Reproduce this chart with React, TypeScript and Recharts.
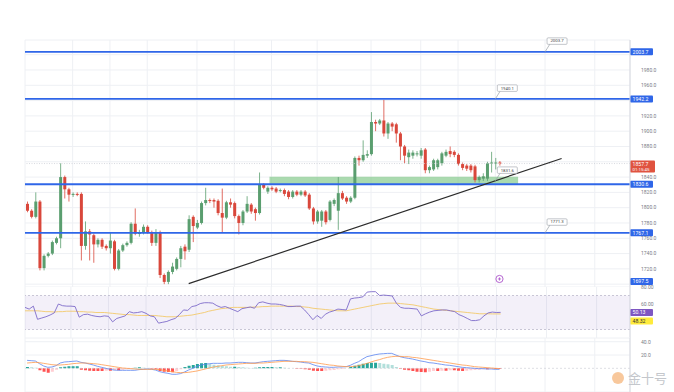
import { ComposedChart, Bar, Line, XAxis, YAxis, CartesianGrid, ReferenceLine, ReferenceArea, ReferenceDot, Cell } from 'recharts';

// daily candles (price units)
const opens = [1805, 1796, 1788, 1808, 1721, 1737, 1740, 1754, 1760, 1840, 1824, 1817, 1818, 1818, 1750, 1769, 1764, 1752, 1758, 1750, 1747, 1756, 1720, 1744, 1751, 1754, 1779, 1766, 1767, 1775, 1768, 1754, 1768, 1712, 1703, 1716, 1720, 1733, 1749, 1745, 1788, 1774, 1780, 1806, 1810, 1810, 1809, 1793, 1787, 1807, 1806, 1789, 1780, 1795, 1804, 1798, 1793, 1830, 1821, 1826, 1825, 1822, 1823, 1821, 1814, 1821, 1817, 1821, 1817, 1799, 1782, 1783, 1795, 1784, 1805, 1796, 1819, 1813, 1808, 1813, 1865, 1862, 1868, 1870, 1912, 1910, 1914, 1897, 1910, 1909, 1897, 1880, 1866, 1868, 1870, 1868, 1876, 1849, 1850, 1853, 1858, 1868, 1874, 1873, 1869, 1857, 1855, 1855, 1854, 1836, 1838, 1838, 1858, 1858, 1859];
const highs = [1808, 1798, 1820, 1810, 1739, 1742, 1757, 1762, 1858, 1842, 1826, 1820, 1820, 1820, 1782, 1772, 1766, 1760, 1760, 1752, 1768, 1758, 1746, 1753, 1756, 1781, 1799, 1771, 1778, 1777, 1770, 1772, 1770, 1714, 1718, 1728, 1735, 1750, 1752, 1790, 1790, 1784, 1808, 1826, 1812, 1812, 1811, 1825, 1809, 1812, 1808, 1791, 1797, 1815, 1806, 1800, 1846, 1832, 1828, 1828, 1827, 1825, 1825, 1823, 1823, 1823, 1823, 1823, 1819, 1801, 1797, 1797, 1797, 1810, 1812, 1840, 1822, 1815, 1815, 1867, 1868, 1888, 1875, 1925, 1915, 1916, 1941, 1912, 1912, 1911, 1899, 1882, 1876, 1875, 1874, 1878, 1878, 1855, 1864, 1864, 1873, 1876, 1880, 1875, 1871, 1859, 1857, 1857, 1856, 1842, 1845, 1860, 1873, 1865, 1861];
const lows = [1794, 1786, 1786, 1718, 1718, 1735, 1738, 1752, 1747, 1812, 1808, 1814, 1815, 1731, 1745, 1731, 1728, 1748, 1746, 1744, 1740, 1718, 1718, 1742, 1749, 1752, 1764, 1762, 1765, 1766, 1750, 1750, 1708, 1700, 1700, 1713, 1718, 1722, 1732, 1742, 1755, 1772, 1778, 1803, 1806, 1800, 1790, 1768, 1785, 1800, 1786, 1765, 1777, 1793, 1792, 1783, 1791, 1824, 1818, 1822, 1819, 1820, 1815, 1811, 1812, 1815, 1815, 1814, 1797, 1778, 1779, 1775, 1778, 1782, 1802, 1771, 1810, 1805, 1806, 1811, 1855, 1860, 1865, 1868, 1900, 1908, 1893, 1890, 1900, 1885, 1862, 1858, 1857, 1864, 1867, 1864, 1845, 1845, 1848, 1850, 1855, 1866, 1866, 1866, 1855, 1849, 1848, 1846, 1833, 1833, 1835, 1835, 1846, 1850, 1855];
const closes = [1796, 1788, 1808, 1721, 1737, 1740, 1755, 1760, 1840, 1824, 1817, 1818, 1817, 1750, 1769, 1765, 1752, 1758, 1749, 1747, 1757, 1720, 1744, 1751, 1754, 1779, 1766, 1767, 1775, 1768, 1754, 1768, 1712, 1703, 1716, 1723, 1733, 1747, 1743, 1785, 1776, 1780, 1806, 1810, 1809, 1808, 1793, 1787, 1807, 1804, 1789, 1780, 1795, 1805, 1795, 1793, 1830, 1826, 1826, 1824, 1821, 1823, 1818, 1814, 1821, 1817, 1821, 1816, 1799, 1782, 1795, 1795, 1781, 1808, 1810, 1819, 1812, 1808, 1813, 1865, 1862, 1869, 1870, 1912, 1910, 1914, 1897, 1910, 1906, 1897, 1880, 1868, 1872, 1872, 1871, 1875, 1849, 1853, 1862, 1862, 1871, 1873, 1870, 1869, 1857, 1852, 1851, 1849, 1836, 1840, 1841, 1858, 1859, 1859, 1857.7];

// RSI(14) and its moving average
const rsi = [56, 54, 57.5, 42, 43.5, 45, 47, 49.5, 60, 58, 57.5, 57.5, 57, 44.5, 47.5, 48, 46.5, 45.5, 45, 46, 45.5, 39, 43, 44.5, 46, 51, 49.5, 50, 51, 49, 46, 45, 37.5, 38.5, 39.5, 41.5, 43, 47.5, 53, 52.5, 57, 58, 60.5, 61.5, 61.5, 61, 58, 56, 57, 55, 53, 51, 54.5, 55.5, 56.5, 55, 61.5, 62.5, 61, 60, 60, 59.5, 58.5, 57, 57, 57.5, 57.5, 53, 47.5, 41.5, 46.5, 43, 48, 50.5, 52, 54, 53.5, 53, 66, 67, 67.5, 68.5, 74, 74.5, 74.5, 70, 70.5, 70, 69.5, 61, 56, 55, 55, 54.5, 54, 46, 48.5, 50.5, 52, 52.5, 53, 53, 52, 51, 47.5, 45.5, 43, 40.5, 40.5, 41.5, 46, 49.5, 50.5, 50, 50.13];
const rsiMa = [52, 52, 52, 52, 51.5, 51, 51, 50.5, 51, 51, 51.5, 51.5, 51.5, 51, 51, 50.5, 50.5, 50, 50, 50, 49.5, 49, 48.5, 48, 47.5, 47.5, 47, 46.5, 46.5, 46.5, 46.5, 46.5, 46, 45.5, 45, 45, 45, 45.5, 46, 46.5, 47, 48, 49, 50, 51.5, 52.5, 53.5, 54.5, 55, 55.5, 56, 56, 56, 56, 56, 56.5, 56.5, 57, 57, 57.5, 57.5, 57.5, 57.5, 57.5, 57.5, 57, 57, 56.5, 56, 55, 54.5, 54, 53.5, 53, 52.5, 52, 52, 52, 53, 54, 55, 56, 57, 58, 59, 60, 60.5, 61, 61, 61, 60.5, 60, 59.5, 59, 58, 57, 56, 55, 54, 53.5, 53, 52.5, 52, 51.5, 51, 50.5, 50, 49.5, 49, 48.5, 48.5, 48.5, 48.32, 48.32, 48.32];

// MACD (12, 26, 9)
const macd = [12, 11.5, 11, 7, 3.5, 1.5, 2, 4, 8, 9.5, 10, 10.5, 11, 9, 8, 6.5, 5, 3, 1.5, 0, -1.5, -2.6, -3, -3, -3, -3, -3, -2, -1.5, -1, -1.5, -2.6, -5, -6.5, -7.5, -9, -9, -8, -5.5, -2.5, 0, 3, 5, 6, 7, 7.5, 7.5, 7.5, 8, 8, 8.5, 9, 9, 8.5, 8, 8, 9, 10, 10.5, 11, 11.5, 12, 12, 11.5, 10.5, 10, 9.5, 8.5, 8, 5.5, 3.5, 2.5, 2, 1.5, 1.5, 2, 2, 2.5, 4.5, 7.5, 10, 14, 17.5, 19, 20.5, 21.5, 22, 22.5, 22.5, 20, 17.5, 16, 15, 14, 12.5, 11, 10, 8.5, 8, 7, 6, 5, 4.5, 3.5, 2.5, 1.5, 1, 0.5, 0, -0.5, -0.5, -1, -1, -1.5, -1.5];
const signal = [8, 8.5, 9, 8.5, 7.5, 6.5, 5.5, 5, 5, 5.5, 6, 7, 7.5, 8, 8, 7.5, 7, 6.5, 5.5, 4.5, 3.5, 2.5, 1.5, 0.5, 0, -0.5, -1, -1.5, -1.5, -1.5, -1.5, -1.5, -2, -3, -4, -5, -6, -6.5, -6.5, -6, -5, -4, -2.5, -1, 0.5, 2, 3, 4, 5, 5.5, 6, 6.5, 7, 7.5, 7.5, 7.5, 8, 8, 8.5, 9, 9.5, 10, 10.5, 10.5, 10.5, 10.5, 10, 10, 9.5, 9, 8, 7, 6, 5, 4.5, 3.5, 3, 2.5, 2.5, 3, 4, 5.5, 7.5, 9.5, 11.5, 13, 15, 16.5, 17.5, 18, 18, 17.5, 17.5, 16.5, 16, 15, 14, 13, 12, 11, 10, 9, 8, 7, 6, 5, 4.5, 3.5, 2.5, 2, 1.5, 1, 0.5, 0, -0.5];
const hist = [2, 1.5, 1, -3, -5, -6.5, -5, -2, 1.5, 2.5, 3, 3, 3, -2, -3, -3.5, -4, -4, -4, -3.5, -3.5, -3, -3, -2, -1.5, -1, 1, 1.5, 1, 0.5, -0.5, -1.5, -4, -5, -5.5, -6, -4, -1.5, 2, 4, 5, 6.5, 7.5, 8, 6.5, 5.5, 4.5, 3.5, 3, 2.5, 2.5, 2, 1.5, 1, 0.5, 1, 1.5, 2, 2, 2, 1.5, 1.5, 1, 0.5, 0, -0.5, -0.5, -1.5, -2, -3.5, -4, -4, -3.5, -3, -2.5, -1.5, -1, 0, 2, 4, 5.5, 7, 8, 8.5, 8.5, 8, 7, 6, 5, 2, -0.5, -2, -3, -4, -5, -5.5, -6, -5, -4, -4, -3.5, -3.5, -3, -3, -3.5, -4, -3.5, -3, -2.5, -2, -1.5, -1.5, -1, -1, -1];

const levels = [2003.7, 1942.2, 1830.6, 1767.1];
const lowTag = 1697.5;
const lastPrice = 1857.7;
const countdown = '01:15:45';
const zone = { from: 59, to: 118, low: 1831, high: 1840.5 };
const trend = [{ x: 39, y: 1700.7 }, { x: 129, y: 1864.3 }];
const notes = [
  { x: 125, y: 2003.7, text: '2003.7' },
  { x: 113, y: 1942.2, text: '1940.1' },
  { x: 113, y: 1835, text: '1831.6' },
  { x: 125, y: 1767.1, text: '1771.3' },
];
const priceTicks = [2000, 1980, 1960, 1940, 1920, 1900, 1880, 1860, 1840, 1820, 1800, 1780, 1760, 1740, 1720, 1700];
const coveredTicks = [2000, 1940, 1860, 1700];
const rsiTicks = [80, 60];
const macdTicks = [40, 20];
const gridTicks = [11, 20, 29, 41, 50, 59, 70, 83, 95, 104, 113, 125, 137];
const SLOTS = 146;

const GREEN = '#5a9e6f';
const RED = '#d9473b';
const BLUE = '#2f66e8';
const GRID = '#eef0f4';
const AXIS_TEXT = '#7a7d86';

const data = Array.from({ length: SLOTS }, (_, i) =>
  i < opens.length
    ? {
        i,
        o: opens[i], h: highs[i], l: lows[i], c: closes[i],
        range: [lows[i], highs[i]],
        rsi: rsi[i], rsiMa: rsiMa[i],
        macd: macd[i], signal: signal[i], hist: hist[i],
      }
    : { i }
);

const histColor = (i: number) => {
  const v = hist[i];
  const prev = i > 0 ? hist[i - 1] : v;
  if (v >= 0) return v >= prev ? '#26a69a' : '#b2dfdb';
  return v <= prev ? '#ff5252' : '#ffcdd2';
};

function Candle(props: any) {
  const { x, y, width, height, payload } = props;
  if (!payload || payload.o == null) return null;
  const { o, h, l, c } = payload;
  const color = c >= o ? GREEN : RED;
  const k = height / Math.max(h - l, 0.001);
  const top = y + (h - Math.max(o, c)) * k;
  const bh = Math.max(Math.abs(o - c) * k, 1);
  const cx = x + width / 2;
  return (
    <g>
      <line x1={cx} x2={cx} y1={y} y2={y + height} stroke={color} strokeWidth={0.8} />
      <rect x={x} y={top} width={width} height={bh} fill={color} />
    </g>
  );
}

function AxisTag({ viewBox, text, fill, color = '#fff', dy = 0 }: any) {
  if (!viewBox) return null;
  const x = viewBox.x + viewBox.width;
  const y = viewBox.y + dy;
  return (
    <g>
      <rect x={x} y={y - 3.5} width={23} height={7} fill={fill} rx={1} />
      <text x={x + 2.5} y={y + 1.9} fontSize={5.2} fill={color}>{text}</text>
    </g>
  );
}

function PriceTag({ viewBox }: any) {
  if (!viewBox) return null;
  const x = viewBox.x + viewBox.width;
  const y = viewBox.y;
  return (
    <g>
      <rect x={x} y={y - 3} width={25} height={12} fill="#e0533f" rx={1} />
      <text x={x + 2.5} y={y + 2.2} fontSize={5.2} fill="#fff">{lastPrice.toFixed(1)}</text>
      <text x={x + 2.5} y={y + 7.6} fontSize={4.4} fill="#fff">{countdown}</text>
    </g>
  );
}

function Note({ cx, cy, text }: any) {
  if (cx == null) return null;
  const bx = cx + 2;
  const by = cy - 14;
  return (
    <g>
      <line x1={cx} y1={cy} x2={bx + 3} y2={by + 6} stroke="#9aa0a8" strokeWidth={0.7} />
      <rect x={bx} y={by} width={20} height={6.5} fill="#fff" stroke="#9aa0a8" strokeWidth={0.6} rx={1} />
      <text x={bx + 10} y={by + 4.6} fontSize={4.3} textAnchor="middle" fill="#444">{text}</text>
    </g>
  );
}

function Marker({ cx, cy }: any) {
  if (cx == null) return null;
  return (
    <g>
      <circle cx={cx} cy={cy} r={3.6} fill="#fff" stroke="#a23fc4" strokeWidth={0.8} />
      <line x1={cx - 1.6} x2={cx + 1.6} y1={cy} y2={cy} stroke="#a23fc4" strokeWidth={0.7} />
      <line x1={cx} x2={cx} y1={cy - 1.6} y2={cy + 1.6} stroke="#a23fc4" strokeWidth={0.7} />
    </g>
  );
}

const makeTick = (digits: number, hidden: number[] = []) => (props: any) => {
  const { x, y, payload } = props;
  if (hidden.includes(payload.value)) return <g />;
  return (
    <text x={x + 3} y={y + 1.8} fontSize={5} fill={AXIS_TEXT}>
      {Number(payload.value).toFixed(digits)}
    </text>
  );
};

export default function App() {
  return (
    <div style={{ position: 'absolute', left: 0, top: 0, width: 674, height: 392, background: '#fff', fontFamily: 'Roboto, sans-serif', overflow: 'hidden' }}>
      {/* price pane */}
      <div style={{ position: 'absolute', left: 0, top: 0 }}>
        <ComposedChart width={674} height={287} data={data} margin={{ top: 40, right: 0, bottom: 0, left: 25 }}>
          <CartesianGrid stroke={GRID} />
          <XAxis dataKey="i" hide ticks={gridTicks} interval={0} />
          <YAxis
            orientation="right"
            width={44}
            domain={[1696.3, 2019.2]}
            ticks={priceTicks}
            interval={0}
            allowDataOverflow
            tickLine={false}
            axisLine={{ stroke: '#d6d9e0' }}
            tick={makeTick(1, coveredTicks)}
          />
          <ReferenceArea x1={zone.from} x2={zone.to} y1={zone.low} y2={zone.high} fill="#7cc684" fillOpacity={0.65} stroke="none" />
          <ReferenceLine y={lastPrice} stroke="#c9ccd3" strokeWidth={0.7} strokeDasharray="1 1.5" label={<PriceTag />} />
          {levels.map((v) => (
            <ReferenceLine key={v} y={v} stroke={BLUE} strokeWidth={1.8} label={<AxisTag text={v.toFixed(1)} fill={BLUE} />} />
          ))}
          <ReferenceLine y={lowTag} stroke="none" label={<AxisTag text={lowTag.toFixed(1)} fill={BLUE} dy={-4.5} />} />
          <Bar dataKey="range" barSize={3} shape={<Candle />} isAnimationActive={false} />
          <ReferenceLine segment={trend} stroke="#2b2b2b" strokeWidth={1.2} ifOverflow="visible" />
          {notes.map((n) => (
            <ReferenceDot key={n.text} x={n.x} y={n.y} r={0} shape={(p: any) => <Note {...p} text={n.text} />} />
          ))}
          <ReferenceDot x={114} y={1706.8} r={0} shape={(p: any) => <Marker {...p} />} />
        </ComposedChart>
      </div>

      {/* RSI pane */}
      <div style={{ position: 'absolute', left: 0, top: 280 }}>
        <ComposedChart width={674} height={65} data={data} margin={{ top: 7, right: 0, bottom: 7, left: 25 }}>
          <CartesianGrid stroke={GRID} horizontal={false} />
          <XAxis dataKey="i" hide ticks={gridTicks} interval={0} />
          <YAxis
            orientation="right"
            width={44}
            domain={[20, 80]}
            ticks={rsiTicks}
            interval={0}
            allowDataOverflow
            tickLine={false}
            axisLine={{ stroke: '#d6d9e0' }}
            tick={makeTick(2)}
          />
          <ReferenceArea y1={30} y2={70} fill="#7e57c2" fillOpacity={0.09} stroke="none" />
          <ReferenceLine y={70} stroke="#b5b0c6" strokeDasharray="2 2" strokeWidth={0.7} />
          <ReferenceLine y={30} stroke="#b5b0c6" strokeDasharray="2 2" strokeWidth={0.7} />
          <Line dataKey="rsiMa" stroke="#f3c96b" strokeWidth={0.9} dot={false} isAnimationActive={false} />
          <Line dataKey="rsi" stroke="#7e6bc9" strokeWidth={0.9} dot={false} isAnimationActive={false} />
          <ReferenceLine y={rsi[rsi.length - 1]} stroke="none" label={<AxisTag text={rsi[rsi.length - 1].toFixed(2)} fill="#7e57c2" />} />
          <ReferenceLine y={rsiMa[rsiMa.length - 1]} stroke="none" label={<AxisTag text={rsiMa[rsiMa.length - 1].toFixed(2)} fill="#ffeb3b" color="#333" dy={7} />} />
        </ComposedChart>
      </div>

      {/* MACD pane */}
      <div style={{ position: 'absolute', left: 0, top: 331 }}>
        <ComposedChart width={674} height={61} data={data} margin={{ top: 7, right: 0, bottom: 0, left: 25 }}>
          <CartesianGrid stroke={GRID} />
          <XAxis dataKey="i" hide ticks={gridTicks} interval={0} />
          <YAxis
            orientation="right"
            width={44}
            domain={[-35.6, 45.6]}
            ticks={macdTicks}
            interval={0}
            allowDataOverflow
            tickLine={false}
            axisLine={{ stroke: '#d6d9e0' }}
            tick={makeTick(1)}
          />
          <ReferenceLine y={0} stroke="#c8cbd2" strokeDasharray="2 2" strokeWidth={0.6} />
          <Bar dataKey="hist" barSize={3} isAnimationActive={false}>
            {data.map((d) => (
              <Cell key={d.i} fill={d.i < hist.length ? histColor(d.i) : 'none'} />
            ))}
          </Bar>
          <Line dataKey="macd" stroke="#5b84f0" strokeWidth={0.8} dot={false} isAnimationActive={false} />
          <Line dataKey="signal" stroke="#ff9a4d" strokeWidth={0.8} dot={false} isAnimationActive={false} />
        </ComposedChart>
      </div>

      <svg style={{ position: 'absolute', left: 580, top: 362 }} width={94} height={30}>
        <circle cx={38} cy={16} r={6} fill="#f29a4a" opacity={0.55} />
        <text x={48} y={21} fontSize={13} fill="#c4c7cc" fontFamily="Noto Sans CJK SC">金十号</text>
      </svg>
    </div>
  );
}
